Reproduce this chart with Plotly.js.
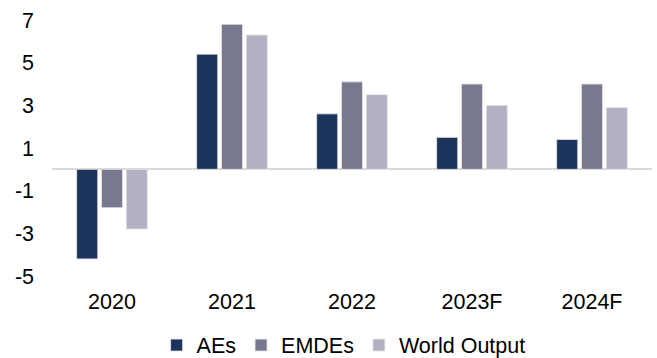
<!DOCTYPE html>
<html>
<head>
<meta charset="utf-8">
<script src="https://cdn.plot.ly/plotly-3.0.1.min.js"></script>
<style>html,body{margin:0;padding:0;background:#fff;}#chart{width:657px;height:358px;}</style>
</head>
<body>
<div id="chart"></div>
<script>
const categories = ["2020", "2021", "2022", "2023F", "2024F"];
const aes = [-4.2, 5.4, 2.6, 1.5, 1.4];
const emdes = [-1.8, 6.8, 4.1, 4.0, 4.0];
const world = [-2.8, 6.3, 3.5, 3.0, 2.9];
const seriesNames = ["AEs", "EMDEs", "World Output"];
const seriesColors = ["#1c335c", "#78798f", "#b2b1c3"];
const yTicks = [-5, -3, -1, 1, 3, 5, 7];

const font = {family: "Liberation Sans, Arial, sans-serif", size: 21.5, color: "#000"};
const data = [aes, emdes, world].map((vals, i) => ({
  type: "bar",
  name: seriesNames[i],
  x: categories,
  y: vals,
  marker: {color: seriesColors[i], line: {color: "#e8e8ee", width: 0.8}},
  hoverinfo: "skip"
}));

const layout = {
  width: 657, height: 358,
  margin: {l: 52, r: 5, t: 20, b: 82},
  paper_bgcolor: "#fff", plot_bgcolor: "#fff",
  font: font,
  barmode: "group",
  bargap: 0.38,
  bargroupgap: 0.15,
  showlegend: true,
  legend: {orientation: "h", x: 0.523, xanchor: "center", xref: "container",
           y: 0.036, yanchor: "middle", yref: "container",
           font: font, traceorder: "normal", itemclick: false},
  xaxis: {type: "category", showgrid: false, zeroline: false, showline: false, automargin: false,
          ticks: "", ticklabelstandoff: 10, tickfont: font},
  yaxis: {range: [-5, 7], tickvals: yTicks, ticktext: yTicks.map(String), automargin: false,
          showgrid: false, zeroline: true, zerolinecolor: "#d9d9d9", zerolinewidth: 2,
          showline: false, ticks: "", ticklabelstandoff: 17, tickfont: font}
};

Plotly.newPlot("chart", data, layout, {staticPlot: true, displayModeBar: false});
</script>
</body>
</html>
